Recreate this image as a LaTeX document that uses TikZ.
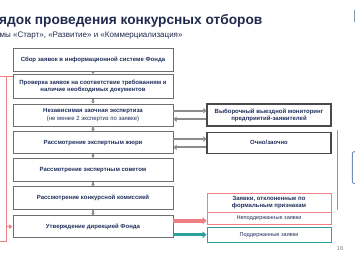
\documentclass[tikz,border=0pt]{standalone}
\usepackage{fontspec}
\setmainfont{Liberation Sans}
\usetikzlibrary{arrows.meta}
\definecolor{navy}{HTML}{1F2A4D}
\definecolor{boxtext}{HTML}{1F2F5A}
\definecolor{boxline}{HTML}{6E6E6E}
\definecolor{darkline}{HTML}{4A4A4A}
\definecolor{salmon}{HTML}{F07F84}
\definecolor{teal2}{HTML}{2AA39F}
\definecolor{garr}{HTML}{8C8C8C}
\definecolor{bluegray}{HTML}{8C9AB0}
\definecolor{bracketblue}{HTML}{6F8DBD}
\tikzset{
  lbox/.style={draw=boxline, line width=0.9pt, minimum width=160pt, align=center,
    inner sep=1pt, font=\fontsize{6}{7.2}\selectfont\bfseries, text=boxtext},
  rbox/.style={draw=darkline, line width=1.1pt, minimum width=124pt, align=center,
    inner sep=1pt, font=\fontsize{6}{7.2}\selectfont\bfseries, text=boxtext},
  redbox/.style={draw=salmon, line width=0.9pt, minimum width=124pt, align=center,
    inner sep=1pt, text=boxtext},
  tealbox/.style={draw=teal2, line width=0.9pt, minimum width=124pt, align=center,
    inner sep=1pt, text=boxtext, font=\fontsize{5.6}{6.6}\selectfont},
  downarr/.style={draw=garr, line width=1.1pt, -{Triangle[length=2.2pt,width=3.6pt]}},
  garrow/.style={draw=garr, line width=2.2pt, -{Triangle[length=3.2pt,width=5.5pt]}},
  fb/.style={draw=salmon, line width=0.9pt},
}
\begin{document}
\begin{tikzpicture}[x=1pt,y=-1pt]
\useasboundingbox (0,0) rectangle (355,261);
% title
\node[anchor=base west, inner sep=0, font=\fontsize{13.7}{16}\selectfont\bfseries, text=navy] (title) at (-1,24.5) {ядок проведения конкурсных отборов};
\node[anchor=base west, inner sep=0, font=\fontsize{8}{9.6}\selectfont, text=navy] (sub) at (-0.5,37.3) {мы «Старт», «Развитие» и «Коммерциализация»};
% left column
\node[lbox, minimum height=22.5pt] (b1) at (93,60.2) {Сбор заявок в информационной системе Фонда};
\node[lbox, minimum height=24pt] (b2) at (93,86.3) {Проверка заявок на соответствие требованиям и\\наличие необходимых документов};
\node[lbox, minimum height=22pt] (b3) at (93,115) {Независимая заочная экспертиза\\{\mdseries (не менее 2 экспертиз по заявке)}};
\node[lbox, minimum height=22.3pt] (b4) at (93,142.8) {Рассмотрение экспертным жюри};
\node[lbox, minimum height=23.4pt] (b5) at (93,170) {Рассмотрение экспертным советом};
\node[lbox, minimum height=22.6pt] (b6) at (93,198) {Рассмотрение конкурсной комиссией};
\node[lbox, minimum height=22pt] (b7) at (93,226.7) {Утверждение дирекцией Фонда};
% right column
\node[rbox, minimum height=22pt] (r1) at (269,115) {Выборочный выездной мониторинг\\предприятий-заявителей};
\node[rbox, minimum height=21pt] (r2) at (269,142.8) {Очно/заочно};
\node[redbox, minimum height=19.3pt, font=\fontsize{6}{7.2}\selectfont\bfseries] (rej1) at (269,202.7) {Заявки, отклоненные по\\формальным признакам};
\node[redbox, minimum height=12.5pt, font=\fontsize{5.6}{6.6}\selectfont] (rej2) at (269,218.5) {Неподдержанные заявки};
\node[tealbox, minimum height=14.3pt] (sup) at (269,234.8) {Поддержанные заявки};
% down arrows
\foreach \a/\b in {b1/b2,b2/b3,b3/b4,b4/b5,b5/b6,b6/b7}{
  \draw[downarr] (\a.south) -- (\b.north);
}
% double arrows
\draw[garrow] ([yshift=4.3pt]b3.east) -- ([yshift=4.3pt]r1.west);
\draw[garrow] ([yshift=-4.3pt]r1.west) -- ([yshift=-4.3pt]b3.east);
\draw[garrow] ([yshift=3.8pt]b4.east) -- ([yshift=3.8pt]r2.west);
\draw[garrow] ([yshift=-4.6pt]r2.west) -- ([yshift=-4.6pt]b4.east);
% result arrows
\draw[draw=salmon, line width=3.6pt, -{Triangle[length=4pt,width=7pt]}] ([yshift=6pt]b7.east) coordinate (ra) -- (ra -| rej2.west);
\draw[draw=teal2, line width=2.8pt, -{Triangle[length=4pt,width=6.5pt]}] (b7.east |- sup.west) -- (sup.west);
% feedback loop
\coordinate (fbt) at (6,76);
\coordinate (fbb) at (6,241);
\coordinate (fbl) at (0,76);
\coordinate (fbl2) at (0,241);
\draw[fb] (fbl) -- (fbl -| b2.west);
\draw[fb] (fbt) -- (fbb) -- (fbl2);
\draw[fb, -{Triangle[length=3.5pt,width=4.5pt]}] (fbt |- b7.west) -- (b7.west);
% right edge details
\coordinate (vl1) at (337.7,130);
\coordinate (vl2) at (337.7,210);
\draw[bluegray, line width=0.8pt] (vl1) -- (vl2);
\draw[bracketblue, line width=0.9pt, rounded corners=2pt] (358,151.7) -- (352.3,151.7) -- (352.3,183.5) -- (358,183.5);
\fill[bluegray] (354,10.5) rectangle (355.5,22.5);
\node[anchor=base, inner sep=0, font=\fontsize{6}{7}\selectfont, text=gray] (pg) at (340,250.5) {16};
\end{tikzpicture}
\end{document}
